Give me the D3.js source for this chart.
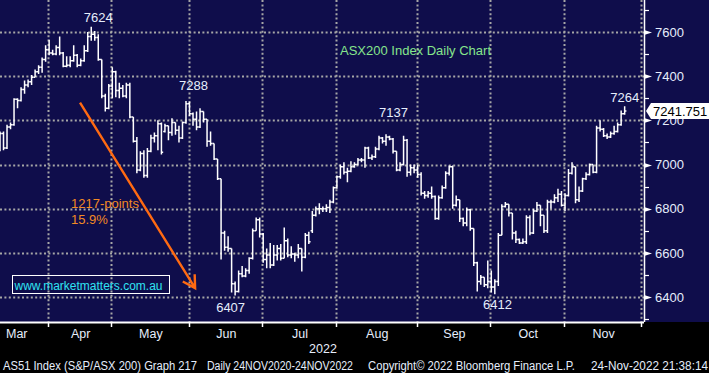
<!DOCTYPE html>
<html>
<head>
<meta charset="utf-8">
<script src="https://cdn.jsdelivr.net/npm/d3@7"></script>
<style>
  html, body { margin: 0; padding: 0; background: #000; }
  svg { display: block; }
  text { font-family: "Liberation Sans", Arial, sans-serif; }
</style>
</head>
<body>
<div id="chart"></div>
<script>
// ASX holidays inside the window (trading calendar)
const holidays = ['2022-04-15', '2022-04-18', '2022-04-25', '2022-06-13', '2022-09-22']

// daily OHLC, 14 Mar 2022 .. 24 Nov 2022
const opens = [
  7080, 7140, 7075, 7170, 7180, 7295, 7290, 7340, 7360, 7375,
  7395, 7420, 7440, 7475, 7520, 7505, 7500, 7530, 7505, 7445,
  7450, 7470, 7495, 7450, 7470, 7515, 7580, 7590, 7575, 7475,
  7310, 7255, 7355, 7420, 7335, 7345, 7310, 7360, 7215, 7105,
  6975, 7050, 6950, 7060, 7120, 7130, 7185, 7150, 7175, 7145,
  7190, 7155, 7120, 7190, 7275, 7230, 7205, 7170, 7240, 7205,
  7105, 7095, 7025, 6935, 6690, 6625, 6620, 6460, 6425, 6505,
  6495, 6520, 6575, 6700, 6750, 6685, 6570, 6590, 6545, 6590,
  6620, 6575, 6655, 6590, 6595, 6590, 6620, 6580, 6680, 6700,
  6770, 6800, 6800, 6800, 6805, 6830, 6895, 6945, 6990, 6965,
  6970, 6990, 7000, 7020, 7020, 7075, 7030, 7035, 7070, 7120,
  7105, 7125, 7115, 7060, 6975, 7000, 7110, 6965, 6985, 6975,
  6955, 6870, 6860, 6870, 6855, 6755, 6850, 6895, 6960, 6990,
  6815, 6840, 6755, 6735, 6795, 6710, 6555, 6470, 6490, 6455,
  6470, 6445, 6470, 6680, 6810, 6820, 6780, 6690, 6660, 6645,
  6650, 6760, 6690, 6790, 6815, 6770, 6700, 6830, 6830, 6850,
  6865, 6815, 6860, 6960, 6990, 6840, 6880, 6935, 6955, 7000,
  6965, 7165, 7160, 7130, 7125, 7140, 7150, 7180, 7230
]
const highs = [
  7150, 7150, 7180, 7190, 7300, 7300, 7350, 7380, 7385, 7405,
  7430, 7450, 7485, 7540, 7565, 7520, 7540, 7580, 7510, 7490,
  7490, 7540, 7500, 7480, 7540, 7600, 7624, 7605, 7590, 7475,
  7320, 7365, 7440, 7425, 7370, 7360, 7370, 7370, 7215, 7125,
  7060, 7065, 7075, 7135, 7145, 7200, 7190, 7185, 7175, 7210,
  7190, 7175, 7195, 7288, 7285, 7235, 7240, 7255, 7240, 7205,
  7150, 7095, 7025, 6935, 6700, 6675, 6620, 6470, 6520, 6540,
  6530, 6580, 6710, 6760, 6760, 6690, 6620, 6645, 6635, 6635,
  6640, 6715, 6665, 6630, 6600, 6640, 6620, 6690, 6695, 6790,
  6810, 6825, 6810, 6820, 6840, 6900, 6950, 7000, 7010, 6985,
  7015, 7010, 7030, 7030, 7080, 7080, 7045, 7080, 7130, 7125,
  7137, 7130, 7120, 7060, 7010, 7130, 7115, 7000, 7000, 7000,
  6965, 6880, 6880, 6900, 6860, 6860, 6905, 6970, 6995, 6995,
  6860, 6840, 6760, 6805, 6800, 6710, 6560, 6500, 6490, 6565,
  6520, 6480, 6690, 6820, 6830, 6820, 6780, 6700, 6665, 6665,
  6770, 6770, 6800, 6830, 6815, 6770, 6840, 6840, 6865, 6890,
  6880, 6870, 6980, 7010, 6990, 6900, 6940, 6965, 7005, 7000,
  7175, 7200, 7165, 7140, 7150, 7175, 7190, 7245, 7264
]
const lows = [
  7060, 7065, 7070, 7160, 7175, 7255, 7285, 7320, 7350, 7360,
  7395, 7410, 7415, 7465, 7495, 7495, 7495, 7495, 7440, 7440,
  7440, 7465, 7440, 7445, 7465, 7510, 7560, 7560, 7470, 7300,
  7240, 7250, 7300, 7305, 7300, 7305, 7300, 7210, 7100, 6960,
  6970, 6940, 6940, 7055, 7100, 7065, 7045, 7145, 7110, 7130,
  7135, 7100, 7115, 7185, 7220, 7175, 7155, 7165, 7190, 7080,
  7085, 7020, 6930, 6570, 6610, 6605, 6420, 6407, 6420, 6490,
  6490, 6505, 6570, 6700, 6670, 6555, 6530, 6530, 6540, 6565,
  6565, 6575, 6580, 6575, 6560, 6575, 6515, 6575, 6640, 6690,
  6765, 6775, 6785, 6785, 6780, 6825, 6890, 6935, 6955, 6920,
  6965, 6985, 6995, 7010, 6985, 7025, 7020, 7030, 7065, 7095,
  7085, 7110, 7050, 6970, 6970, 6995, 6945, 6950, 6960, 6940,
  6860, 6845, 6850, 6845, 6750, 6750, 6845, 6890, 6950, 6800,
  6810, 6740, 6720, 6720, 6700, 6540, 6425, 6455, 6445, 6440,
  6420, 6412, 6450, 6680, 6805, 6765, 6660, 6645, 6640, 6640,
  6640, 6680, 6685, 6785, 6720, 6690, 6690, 6800, 6825, 6830,
  6810, 6790, 6855, 6955, 6825, 6830, 6875, 6930, 6950, 6960,
  6960, 7150, 7125, 7115, 7120, 7135, 7145, 7175, 7225
]
const closes = [
  7140, 7075, 7170, 7180, 7295, 7290, 7340, 7360, 7375, 7395,
  7420, 7440, 7475, 7520, 7505, 7500, 7530, 7505, 7445, 7450,
  7470, 7495, 7450, 7470, 7515, 7580, 7590, 7575, 7475, 7310,
  7255, 7355, 7420, 7335, 7345, 7310, 7360, 7215, 7105, 6975,
  7050, 6950, 7060, 7120, 7130, 7185, 7055, 7175, 7145, 7190,
  7155, 7120, 7190, 7275, 7230, 7205, 7170, 7240, 7205, 7105,
  7095, 7025, 6935, 6690, 6625, 6620, 6460, 6425, 6505, 6495,
  6520, 6575, 6700, 6750, 6685, 6570, 6590, 6545, 6590, 6620,
  6575, 6655, 6590, 6595, 6590, 6620, 6580, 6680, 6650, 6770,
  6800, 6800, 6800, 6805, 6830, 6895, 6945, 6990, 6965, 6970,
  6990, 7000, 7020, 7020, 7075, 7030, 7035, 7070, 7120, 7105,
  7125, 7115, 7060, 6975, 7000, 7110, 6965, 6985, 6975, 6955,
  6870, 6860, 6870, 6855, 6755, 6850, 6895, 6960, 6990, 6815,
  6840, 6755, 6735, 6795, 6710, 6555, 6470, 6490, 6455, 6470,
  6445, 6470, 6680, 6810, 6820, 6780, 6690, 6660, 6645, 6650,
  6760, 6690, 6790, 6815, 6770, 6700, 6830, 6830, 6850, 6865,
  6815, 6860, 6960, 6990, 6840, 6880, 6935, 6955, 7000, 6965,
  7165, 7160, 7130, 7125, 7140, 7150, 7180, 7230, 7241.751
]

const yTicks = [6400, 6600, 6800, 7000, 7200, 7400, 7600]
const yMinorTicks = [6300, 6500, 6700, 6900, 7100, 7300, 7500, 7700]
const lastPrice = '7241.751'

// marked extremes (bar index, which side)
const peaks = [26, 53, 110, 178]
const troughs = [67, 141]

const width = 709
const height = 373
const plotRight = 644
const plotBottom = 322

const navy = '#0f0d4b'
const gridColor = '#a6a6a6'
const textColor = '#e6eefc'

const fmt = d3.timeFormat('%Y-%m-%d')
const dates = d3.timeDay
  .range(new Date(2022, 2, 14), new Date(2022, 11, 2))
  .filter(d => d.getDay() !== 0 && d.getDay() !== 6 && !holidays.includes(fmt(d)))

const bars = closes.map((c, i) => ({
  i: i,
  date: dates[i],
  open: opens[i],
  high: highs[i],
  low: lows[i],
  close: c
}))

const x = d3.scaleLinear().domain([0, dates.length - 1]).range([0, 642.2])
const y = d3.scaleLinear().domain([6400, 7600]).range([297, 32])

const svg = d3
  .select('#chart')
  .append('svg')
  .attr('width', width)
  .attr('height', height)

svg.append('rect').attr('width', width).attr('height', height).attr('fill', '#000')
svg.append('rect').attr('width', width).attr('height', plotBottom).attr('fill', navy)

// month boundaries: first trading day of each month
const monthStarts = []
dates.forEach((d, i) => {
  if (i > 0 && d.getMonth() !== dates[i - 1].getMonth()) monthStarts.push(i)
})

// grid
svg
  .append('g')
  .selectAll('line')
  .data(yTicks)
  .enter()
  .append('line')
  .attr('x1', 0)
  .attr('x2', plotRight)
  .attr('y1', d => Math.round(y(d)) + 0.5)
  .attr('y2', d => Math.round(y(d)) + 0.5)
  .attr('stroke', gridColor)
  .attr('stroke-width', 2)
  .attr('stroke-dasharray', '2,2.4')

svg
  .append('g')
  .selectAll('line')
  .data(monthStarts)
  .enter()
  .append('line')
  .attr('x1', d => Math.round(x(d)) - 0.5)
  .attr('x2', d => Math.round(x(d)) - 0.5)
  .attr('y1', 0)
  .attr('y2', plotBottom)
  .attr('stroke', gridColor)
  .attr('stroke-width', 2)
  .attr('stroke-dasharray', '2,2.4')

// OHLC bars
const tick = 1.75
svg
  .append('g')
  .selectAll('path')
  .data(bars)
  .enter()
  .append('path')
  .attr('d', d => {
    const cx = x(d.i)
    return 'M' + cx + ',' + y(d.high) + 'V' + y(d.low) +
      'M' + (cx - tick) + ',' + y(d.open) + 'H' + cx +
      'M' + cx + ',' + y(d.close) + 'H' + (cx + tick)
  })
  .attr('fill', 'none')
  .attr('stroke', '#fff')
  .attr('stroke-width', 1.5)

// bottom axis
svg
  .append('line')
  .attr('x1', 0)
  .attr('x2', plotRight)
  .attr('y1', plotBottom + 0.5)
  .attr('y2', plotBottom + 0.5)
  .attr('stroke', '#fff')
  .attr('stroke-width', 2)

svg
  .append('g')
  .selectAll('line')
  .data(monthStarts)
  .enter()
  .append('line')
  .attr('x1', d => Math.round(x(d)) - 0.5)
  .attr('x2', d => Math.round(x(d)) - 0.5)
  .attr('y1', plotBottom)
  .attr('y2', plotBottom + 5)
  .attr('stroke', '#fff')
  .attr('stroke-width', 1.5)

// month labels centred in each month span
const spans = [0].concat(monthStarts)
const monthFmt = d3.timeFormat('%b')
svg
  .append('g')
  .selectAll('text')
  .data(spans.slice(0, -1))
  .enter()
  .append('text')
  .attr('x', (d, k) => k === 0 ? 6 : (x(d) + x(spans[k + 1])) / 2)
  .attr('y', 337.5)
  .attr('text-anchor', (d, k) => k === 0 ? 'start' : 'middle')
  .attr('font-size', 12.5)
  .attr('fill', textColor)
  .text(d => monthFmt(dates[d]))

svg
  .append('text')
  .attr('x', plotRight / 2 + 1)
  .attr('y', 352.5)
  .attr('text-anchor', 'middle')
  .attr('font-size', 12.5)
  .attr('fill', textColor)
  .text('2022')

// right axis
svg
  .append('line')
  .attr('x1', plotRight + 0.5)
  .attr('x2', plotRight + 0.5)
  .attr('y1', 0)
  .attr('y2', plotBottom)
  .attr('stroke', '#fff')
  .attr('stroke-width', 1.5)

svg
  .append('g')
  .selectAll('line')
  .data(yMinorTicks)
  .enter()
  .append('line')
  .attr('x1', plotRight)
  .attr('x2', plotRight + 5)
  .attr('y1', d => Math.round(y(d)) + 0.5)
  .attr('y2', d => Math.round(y(d)) + 0.5)
  .attr('stroke', '#fff')
  .attr('stroke-width', 1.2)

svg
  .append('g')
  .selectAll('path')
  .data(yTicks)
  .enter()
  .append('path')
  .attr('d', d => {
    const ty = Math.round(y(d)) + 0.5
    return 'M' + plotRight + ',' + (ty - 2.5) + 'L' + (plotRight + 8) + ',' + ty + 'L' + plotRight + ',' + (ty + 2.5) + 'Z'
  })
  .attr('fill', '#fff')

const yAxis = d3.axisRight(y).tickValues(yTicks).tickSize(0).tickPadding(11).tickFormat(d3.format('d'))
svg
  .append('g')
  .attr('transform', 'translate(' + plotRight + ',0)')
  .call(yAxis)
  .call(g => g.select('.domain').remove())
  .selectAll('text')
  .attr('font-family', '"Liberation Sans", Arial, sans-serif')
  .attr('font-size', 13)
  .attr('fill', textColor)

// last price tag
const tagY = y(closes[closes.length - 1])
svg
  .append('path')
  .attr('d', 'M' + (plotRight + 2) + ',' + tagY +
    'L' + (plotRight + 7) + ',' + (tagY - 8) + 'H' + width + 'V' + (tagY + 8) +
    'H' + (plotRight + 7) + 'Z')
  .attr('fill', '#fff')
svg
  .append('text')
  .attr('x', plotRight + 9)
  .attr('y', tagY + 5)
  .attr('font-size', 13)
  .attr('fill', '#000')
  .text(lastPrice)

// high / low labels
const extremeLabels = [
  { i: peaks[0], v: highs[peaks[0]], dx: 7, dy: -5 },
  { i: peaks[1], v: highs[peaks[1]], dx: 7.5, dy: -10.5 },
  { i: peaks[2], v: highs[peaks[2]], dx: 7.5, dy: -17 },
  { i: peaks[3], v: highs[peaks[3]], dx: 0, dy: -4.7 },
  { i: troughs[0], v: lows[troughs[0]], dx: -4.5, dy: 17 },
  { i: troughs[1], v: lows[troughs[1]], dx: 2.7, dy: 15 }
]
svg
  .append('g')
  .selectAll('text')
  .data(extremeLabels)
  .enter()
  .append('text')
  .attr('x', d => x(d.i) + d.dx)
  .attr('y', d => y(d.v) + d.dy)
  .attr('text-anchor', 'middle')
  .attr('font-size', 13)
  .attr('fill', textColor)
  .text(d => d3.format('d')(d.v))

// title
svg
  .append('text')
  .attr('x', 340)
  .attr('y', 54.5)
  .attr('font-size', 13)
  .attr('fill', '#86e58c')
  .text('ASX200 Index Daily Chart')

// fall annotation
const orange = '#ff6a12'
const a0 = [x(22.8), y(7280)]
const a1 = [x(55.6), y(6440)]
const ang = Math.atan2(a1[1] - a0[1], a1[0] - a0[0])
const headLen = 14
const h1 = [a1[0] - headLen * Math.cos(ang - Math.PI / 6), a1[1] - headLen * Math.sin(ang - Math.PI / 6)]
const h2 = [a1[0] - headLen * Math.cos(ang + Math.PI / 6), a1[1] - headLen * Math.sin(ang + Math.PI / 6)]
svg
  .append('path')
  .attr('d', 'M' + a0 + 'L' + a1 + 'M' + h1 + 'L' + a1 + 'L' + h2)
  .attr('fill', 'none')
  .attr('stroke', orange)
  .attr('stroke-width', 2.4)

svg
  .append('text')
  .attr('x', 71)
  .attr('y', 207.5)
  .attr('font-size', 13)
  .attr('fill', '#f28a24')
  .text('1217-points')
svg
  .append('text')
  .attr('x', 71)
  .attr('y', 223.5)
  .attr('font-size', 13)
  .attr('fill', '#f28a24')
  .text('15.9%')

// website box
svg
  .append('rect')
  .attr('x', 12.5)
  .attr('y', 275.5)
  .attr('width', 157)
  .attr('height', 18)
  .attr('fill', 'none')
  .attr('stroke', '#fff')
  .attr('stroke-width', 1)
svg
  .append('text')
  .attr('x', 14.5)
  .attr('y', 289.5)
  .attr('font-size', 12)
  .attr('fill', '#2fe3f2')
  .text('www.marketmatters.com.au')

// footer
const footer = [
  { t: 'AS51 Index (S&P/ASX 200) Graph 217', x: 3, w: 194 },
  { t: 'Daily 24NOV2020-24NOV2022', x: 207, w: 146 },
  { t: 'Copyright\u00a9 2022 Bloomberg Finance L.P.', x: 368, w: 207 },
  { t: '24-Nov-2022 21:38:14', x: 591, w: 117 }
]
svg
  .append('g')
  .selectAll('text')
  .data(footer)
  .enter()
  .append('text')
  .attr('x', d => d.x)
  .attr('y', 369.5)
  .attr('font-size', 12)
  .attr('fill', textColor)
  .attr('textLength', d => d.w)
  .attr('lengthAdjust', 'spacingAndGlyphs')
  .text(d => d.t)
</script>
</body>
</html>
